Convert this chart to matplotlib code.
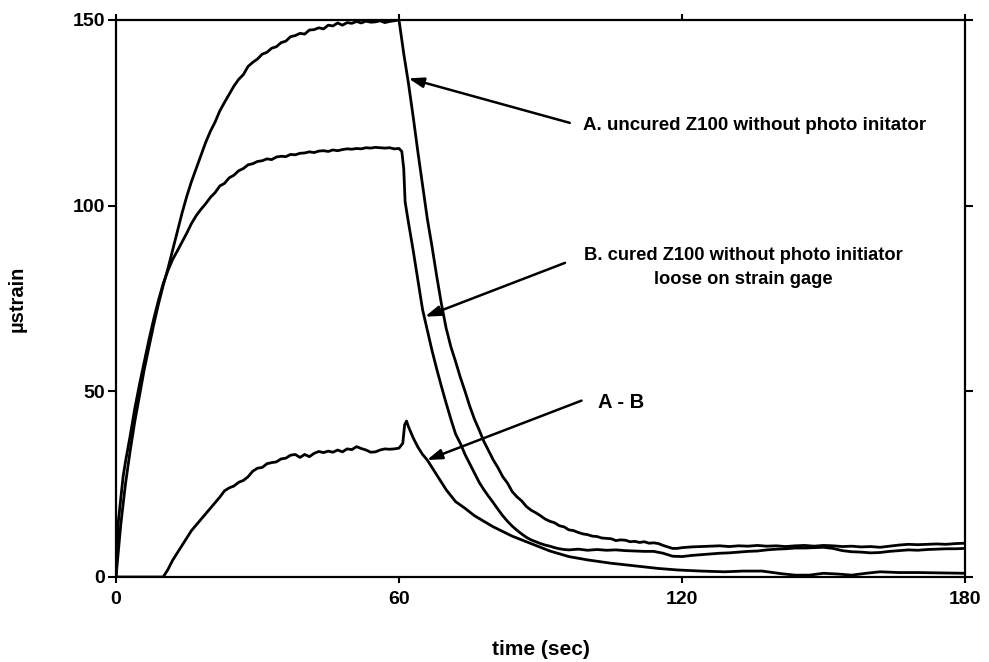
import matplotlib
matplotlib.use("Agg")
import matplotlib.pyplot as plt

plt.rcParams['font.family'] = ['Liberation Sans', 'DejaVu Sans']
plt.rcParams['font.weight'] = 'bold'

# A. uncured Z100 without photo initiator
a_time = [0, 1, 2, 3, 4, 5, 6, 7, 8, 9, 10, 11, 12, 13, 14, 15, 16, 17, 18, 19,
          20, 21, 22, 23, 24, 25, 26, 27, 28, 29, 30, 31, 32, 33, 34, 35, 36, 37, 38, 39,
          40, 41, 42, 43, 44, 45, 46, 47, 48, 49, 50, 51, 52, 53, 54, 55, 56, 57, 58, 59,
          60, 61, 62, 63, 64, 65, 66, 67, 68, 69, 70, 71, 72, 73, 74, 75, 76, 77, 78, 79,
          80, 81, 82, 83, 84, 85, 86, 87, 88, 89, 90, 91, 92, 93, 94, 95, 96, 97, 98, 99,
          100, 101, 102, 103, 104, 105, 106, 107, 108, 109, 110, 111, 112, 113, 114, 115,
          116, 117, 118, 119, 120, 122, 124, 126, 128, 130, 132, 134, 136, 138, 140, 142,
          144, 146, 148, 150, 152, 154, 156, 158, 160, 162, 164, 166, 168, 170, 172, 174,
          176, 178, 180]
a_strain = [0, 14, 25, 34, 42, 49, 56, 62, 68, 73.5, 78.5, 83, 88, 93, 98, 102.5, 106.5, 110, 113.5, 117,
            120, 122.5, 125.5, 127.8, 130, 132.2, 134, 135.3, 137.5, 138.6, 139.5, 140.8, 141.3, 142.4, 142.8, 143.9, 144.3, 145.5, 145.8, 146.4,
            146.2, 147.3, 147.4, 147.9, 147.6, 148.6, 148.4, 149.2, 148.6, 149.3, 149.1, 149.6, 149.2, 149.7, 149.4, 149.5, 149.8, 149.3, 149.6, 149.8,
            150, 141, 133, 124, 114.5, 105.5, 96.5, 89, 81, 73.5, 67, 62, 58, 53.8, 50, 46, 42.5, 39.6, 36.5, 34,
            31.5, 29.4, 27, 25.3, 23, 21.6, 20.5, 19, 18, 17.3, 16.5, 15.6, 15, 14.6, 13.8, 13.5, 12.7, 12.5, 12, 11.6,
            11.4, 11, 10.9, 10.5, 10.4, 10.3, 9.8, 10, 9.9, 9.5, 9.6, 9.3, 9.5, 9.1, 9.2, 9,
            8.5, 8.1, 7.7, 7.7, 7.9, 8.1, 8.2, 8.3, 8.4, 8.2, 8.4, 8.3, 8.5, 8.3, 8.4, 8.2,
            8.4, 8.5, 8.3, 8.5, 8.4, 8.2, 8.3, 8.1, 8.2, 8.0, 8.3, 8.6, 8.8, 8.7, 8.8, 8.9,
            8.8, 9.0, 9.1]

# B. cured Z100 without photo initiator, loose on strain gage
b_time = [0, 0.5, 1, 1.5, 2, 3, 4, 5, 6, 7, 8, 9, 10, 11, 12, 13, 14, 15, 16, 17, 18, 19,
          20, 21, 22, 23, 24, 25, 26, 27, 28, 29, 30, 31, 32, 33, 34, 35, 36, 37, 38, 39,
          40, 41, 42, 43, 44, 45, 46, 47, 48, 49, 50, 51, 52, 53, 54, 55, 56, 57, 58, 59,
          60, 60.6, 61, 61.3, 62, 63, 64, 65, 66, 67, 68, 69, 70, 71, 72, 73, 74, 75, 76, 77, 78, 79,
          80, 81, 82, 83, 84, 85, 86, 87, 88, 89, 90, 91, 92, 93, 94, 95, 96, 98,
          100, 102, 104, 106, 108, 110, 112, 114, 116, 118, 120, 122, 124, 126, 128, 130,
          132, 134, 136, 138, 140, 142, 144, 146, 148, 150, 152, 154, 156, 158, 160, 162,
          164, 166, 168, 170, 172, 174, 176, 178, 180]
b_strain = [0, 15, 21, 27, 31, 38, 45.5, 52, 58, 64, 69.5, 74.5, 79, 82.5, 85.5, 87.8, 90.2, 92.6, 95.2, 97.3, 99, 100.5,
            102.2, 103.5, 105.3, 106, 107.5, 108.2, 109.4, 110, 111, 111.3, 111.9, 112.1, 112.6, 112.4, 113.1, 113.3, 113.2, 113.8, 113.7, 114.1,
            114.2, 114.5, 114.3, 114.7, 114.8, 114.6, 115, 114.8, 115.1, 115.3, 115.2, 115.4, 115.3, 115.6, 115.5, 115.7, 115.6, 115.5, 115.6, 115.3,
            115.4, 114.6, 110, 101, 95.5, 88, 80, 72, 66.5, 61, 56, 51.3, 46.8, 42.5, 38.5, 36, 33, 30.5, 28, 25.5, 23.5, 21.7,
            20, 18.2, 16.5, 15, 13.7, 12.6, 11.6, 10.7, 10, 9.5, 9, 8.6, 8.3, 7.9, 7.6, 7.4, 7.3, 7.5,
            7.2, 7.4, 7.2, 7.3, 7.1, 7, 6.9, 6.9, 6.4, 5.6, 5.5, 5.8, 6.0, 6.2, 6.4, 6.5,
            6.7, 6.9, 7.0, 7.3, 7.5, 7.6, 7.8, 7.8, 7.9, 8.0, 7.7, 7.1, 6.8, 6.7, 6.5, 6.6,
            6.9, 7.1, 7.3, 7.2, 7.4, 7.5, 7.6, 7.6, 7.7]

# A - B difference
d_time = [0, 10, 11, 12, 13, 14, 15, 16, 17, 18, 19, 20, 21, 22, 23, 24, 25, 26, 27, 28, 29,
          30, 31, 32, 33, 34, 35, 36, 37, 38, 39, 40, 41, 42, 43, 44, 45, 46, 47, 48, 49,
          50, 51, 52, 53, 54, 55, 56, 57, 58, 59, 60, 60.8, 61.2, 61.6, 62, 63, 64, 65, 66, 68,
          70, 72, 74, 76, 78, 80, 84, 88, 92, 96, 100, 105, 110, 115, 119, 124, 129, 133,
          137, 141, 144, 147, 150, 153, 156, 159, 162, 166, 170, 175, 180]
d_strain = [0, 0, 2, 4.5, 6.5, 8.5, 10.5, 12.5, 14, 15.5, 17, 18.5, 20, 21.5, 23.2, 24, 24.5, 25.5, 26, 27, 28.5,
            29.3, 29.5, 30.5, 30.8, 31, 31.8, 32, 32.8, 33, 32.2, 33, 32.4, 33.3, 33.8, 33.5, 33.9, 33.6, 34.2, 33.7, 34.5,
            34.3, 35.1, 34.6, 34.2, 33.6, 33.7, 34.2, 34.5, 34.4, 34.5, 34.7, 36, 41, 42, 40.5, 37.5, 35, 33, 31.5, 27.5,
            23.5, 20.3, 18.5, 16.5, 15, 13.5, 11, 9, 7, 5.5, 4.6, 3.7, 3, 2.3, 1.9, 1.6, 1.4, 1.6,
            1.6, 0.9, 0.5, 0.5, 1, 0.8, 0.5, 1, 1.4, 1.2, 1.2, 1.1, 1]

x_ticks = [0, 60, 120, 180]
y_ticks = [0, 50, 100, 150]

fig = plt.figure(figsize=(9.89, 6.62), dpi=100)
ax = fig.add_axes([0.1173, 0.1284, 0.8584, 0.8414])

for t, s in [(a_time, a_strain), (b_time, b_strain), (d_time, d_strain)]:
    ax.plot(t, s, color='black', lw=2.0, solid_joinstyle='round')

ax.set_xlim(0, 180)
ax.set_ylim(0, 150)
ax.set_xticks(x_ticks)
ax.set_yticks(y_ticks)
ax.tick_params(axis='both', which='major', direction='out', top=True, right=True,
               labeltop=False, labelright=False, width=1.5, labelsize=14)
ax.tick_params(axis='x', length=4, pad=6)
ax.tick_params(axis='y', length=6, pad=2)
for sp in ax.spines.values():
    sp.set_linewidth(1.6)

ax.set_xlabel('time (sec)', fontsize=15, fontweight='bold')
ax.set_ylabel('µstrain', fontsize=14.5, fontweight='bold')
ax.xaxis.set_label_coords(0.501, -0.113)
ax.yaxis.set_label_coords(-0.105, 0.5)

arrow = dict(arrowstyle='-|>,head_length=0.6,head_width=0.2', color='black',
             lw=1.8, shrinkA=0, shrinkB=0, mutation_scale=15)
ax.annotate('', xy=(62.0, 134.3), xytext=(96.2, 122.3), arrowprops=arrow)
ax.annotate('', xy=(65.5, 70.1), xytext=(95.2, 84.6), arrowprops=arrow)
ax.annotate('', xy=(65.9, 31.5), xytext=(98.7, 47.5), arrowprops=arrow)

ax.text(99.0, 121.7, 'A. uncured Z100 without photo initator', fontsize=13.5,
        fontweight='bold', ha='left', va='center')
ax.text(133.1, 83.4, 'B. cured Z100 without photo initiator\nloose on strain gage',
        fontsize=13.2, fontweight='bold', ha='center', va='center', linespacing=1.5)
ax.text(102.2, 47.1, 'A - B', fontsize=14.5, fontweight='bold', ha='left', va='center')

fig.savefig('out.png', dpi=100)
